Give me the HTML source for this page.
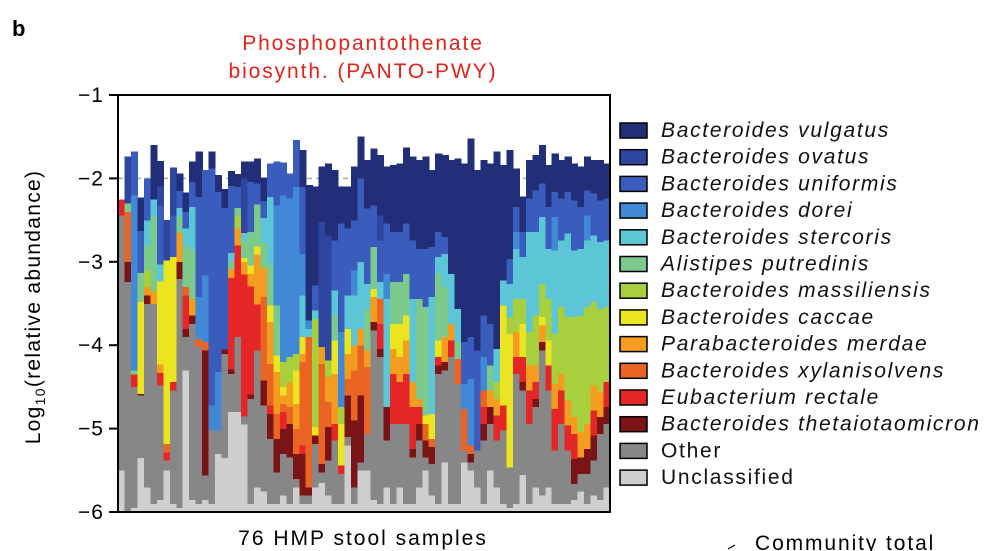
<!DOCTYPE html>
<html><head><meta charset="utf-8"><style>
html,body{margin:0;padding:0;background:#fff;}
svg{display:block;font-family:"Liberation Sans",Arial,sans-serif;}
</style></head><body>
<svg id="chart" width="990" height="551" viewBox="0 0 990 551">
<text x="12" y="36" font-size="22" font-weight="bold">b</text>
<text x="363" y="50" font-size="21" letter-spacing="1.9" fill="#e2231a" text-anchor="middle">Phosphopantothenate</text>
<text x="363" y="78" font-size="21" letter-spacing="1.9" fill="#e2231a" text-anchor="middle">biosynth. (PANTO-PWY)</text>
<g id="bars"></g>
<g id="axis"></g>
<text transform="translate(40,307) rotate(-90)" font-size="21" letter-spacing="1.3" text-anchor="middle">Log<tspan font-size="14" dy="5">10</tspan><tspan dy="-5">(relative abundance)</tspan></text>
<text x="363" y="545" font-size="21" letter-spacing="2" text-anchor="middle">76 HMP stool samples</text>
<g id="legend"></g>
<line x1="728" y1="549" x2="735" y2="545" stroke="#000" stroke-width="1.2"/>
<text x="755" y="550" font-size="21" letter-spacing="1.9">Community total</text>
</svg>
<script>
const speciesNames = ["Unclassified","Other","Bacteroides thetaiotaomicron","Eubacterium rectale","Bacteroides xylanisolvens","Parabacteroides merdae","Bacteroides caccae","Bacteroides massiliensis","Alistipes putredinis","Bacteroides stercoris","Bacteroides dorei","Bacteroides uniformis","Bacteroides ovatus","Bacteroides vulgatus"];
const speciesColors = ["#cfcfcf","#878787","#7b1416","#e42626","#ea6424","#f39c1f","#ebe420","#a8cf3e","#7cc98c","#5cc6d6","#4189d6","#3a5cbc","#2f46a0","#232e78"];
const yTicks = [-1,-2,-3,-4,-5,-6];
const yTickLabels = ["\u22121","\u22122","\u22123","\u22124","\u22125","\u22126"];
const unclassified = [.5,0,.05,.65,.3,.1,.15,.5,.1,.05,1.7,.15,.1,.15,.1,.7,.65,1.2,1.2,1.05,.1,.3,.25,.1,.1,.2,.1,.3,.1,.1,.3,.35,.2,.1,.1,.8,.1,.5,.5,.15,.1,.3,.1,.3,.1,.1,.3,.5,.2,.1,.6,.1,.1,.6,.5,.3,.1,.5,.3,.1,.05,.1,.45,.1,.3,.2,.3,.1,.1,.1,.15,.25,.1,.2,.15,.3];
const other = [3.06,2.76,1.45,.75,2.2,2.4,1.37,.12,1.36,2.75,.4,2.11,1.88,.29,.88,.28,1.25,.46,.9,.1,1.26,1.64,1.03,.78,.38,.5,.56,.1,.1,.1,.52,.13,.42,.76,.36,.1,.2,.1,.44,2.03,1.76,.56,.96,.76,.96,.56,.56,.16,.38,1.56,1.1,1.76,1.44,.14,.1,.44,.76,.56,.56,.88,.49,1.56,1.01,.96,.96,1.74,1.16,.64,.96,.64,.19,.21,.36,.42,.79,.76];
const thetaiotaomicron = [0,.24,0,.02,.1,0,0,0,0,.2,.1,.1,0,1.5,0,0,.05,.05,0,0,.05,0,.3,.3,.4,.3,.4,.3,.5,.1,.1,.1,.4,0,0,.5,.8,.8,0,.1,.1,.4,0,0,0,.1,.2,.2,.2,.1,.1,0,0,0,.1,0,.2,.2,0,0,0,0,.1,0,.1,.1,0,0,0,0,.3,.2,.3,.3,.2,.2];
const rectale = [.19,0,.15,0,0,0,.15,.1,.1,0,.4,0,0,0,0,0,0,1.1,1.1,1.7,1.3,.55,0,.1,0,.2,0,0,.1,0,0,0,0,.2,.1,0,0,0,0,0,.3,0,.6,.5,.6,.5,.2,0,0,.1,0,.2,0,0,0,0,.2,0,.3,.3,0,.2,.3,.4,.2,0,.3,.5,.4,.3,.3,0,0,.3,0,.3];
const xylanisolvens = [0,.6,0,0,0,0,0,.1,0,0,.1,0,.1,.1,0,0,0,0,0,0,0,0,1.0,.5,.3,.1,.2,.3,1.0,1.8,0,1.2,.3,0,0,.2,.6,.6,.8,0,.3,0,0,0,0,0,0,.2,.1,0,0,0,.3,.5,.1,0,.2,0,0,0,0,0,0,0,0,0,0,0,0,0,0,0,0,0,0,0];
const merdae = [0,0,0,0,.1,.15,.1,0,0,.35,0,.2,0,0,0,0,0,.1,.2,.15,.15,.6,.35,.5,.5,.1,.3,.3,.1,0,0,.2,.3,.6,0,.3,.3,.2,.2,.3,0,0,.3,.3,.4,.3,.1,0,0,0,.3,.2,0,0,0,0,0,.2,.2,0,0,.3,0,.3,.2,.2,0,.3,.2,.3,.2,.3,.3,.3,.3,0];
const caccae = [0,0,0,1.1,0,0,1.0,2.2,1.5,0,0,0,0,0,0,0,0,0,0,.05,.1,.1,0,.2,.2,.1,0,.4,.2,0,.1,0,0,.4,.5,.3,0,0,0,.1,0,0,.3,.4,.3,0,0,.1,.3,.2,0,0,0,0,0,0,0,0,0,1.2,1.6,0,.4,0,0,.1,.3,0,0,0,0,0,0,0,0,0];
const massiliensis = [0,0,0,0,.2,0,0,0,0,0,0,0,0,0,0,0,0,0,.15,0,0,0,0,0,0,.3,.3,.2,0,0,1.3,0,.2,0,.2,0,0,0,0,0,0,0,0,0,0,0,0,0,0,0,0,0,0,0,0,0,0,0,.2,0,.2,.4,.3,.4,.6,.4,.5,.6,.8,1.0,1.2,1.4,1.4,1.0,1.0,.9];
const putredinis = [0,.1,.05,.35,.3,.9,0,0,0,.2,.5,.6,0,0,0,0,0,.1,.1,.2,.4,.5,.3,.5,.6,0,0,0,0,0,0,0,0,.3,0,0,0,0,.5,.5,0,0,.5,.5,.5,0,1.2,1.3,0,.8,.6,0,.2,0,0,0,0,.3,0,0,0,0,0,0,0,0,0,0,0,0,0,0,0,0,0,0];
const stercoris = [0,0,0,0,.3,.2,.2,0,0,.1,.2,.5,0,0,0,0,0,.1,0,.1,0,0,.3,.8,0,0,0,0,.5,.1,.1,0,0,.3,0,.4,.6,.8,.3,0,.2,1.3,0,0,0,1.0,0,0,1.4,.2,.4,.6,.4,0,0,0,0,0,.4,.3,.4,.6,.5,1.2,1.0,.8,.6,1.0,.8,1.0,.8,.8,.8,.8,.8,.8];
const dorei = [0,0,2.1,0,0,0,0,0,0,0,0,0,.5,.8,.3,.7,0,0,0,0,0,0,0,0,1.2,2.0,1.9,2.0,.5,.1,0,0,0,0,.9,0,.3,0,0,0,0,.3,0,0,0,0,0,0,0,0,0,0,0,.3,.8,0,.4,0,0,0,0,.2,0,0,0,0,0,.4,0,0,0,0,.3,0,0,0];
const uniformis = [0,0,.52,.5,.5,0,.7,0,.5,.2,.2,.3,1.2,1.26,2.84,2.16,1.7,.8,.25,0,.6,.25,.2,.4,.52,.39,.3,.56,.8,0,.3,0,0,.6,1.3,.8,.6,1.0,.9,.5,.5,.6,.6,.6,.6,.7,.6,.7,.6,.3,.2,0,0,.5,.5,1.2,.5,.5,0,0,.3,.3,.3,.4,.5,.4,.5,.3,.5,.5,.6,.5,.3,.5,.5,.5];
const ovatus = [0,.56,0,0,0,0,.24,.48,.57,0,0,0,0,0,0,0,0,0,0,.65,0,0,0,0,0,0,0,0,0,0,0,1.5,1.5,0,0,0,0,0,0,0,.3,0,0,0,0,0,0,0,0,0,0,0,0,0,0,0,0,0,0,0,0,0,0,0,0,0,0,0,0,0,0,0,0,0,0,0];
const vulgatus = [0,0,0,.4,0,.65,.3,0,0,.21,.23,.24,.54,0,.2,.2,.22,.18,.15,.2,.24,.3,.28,0,0,0,0,0,.44,1.62,1.18,.66,.86,.84,.44,.5,.64,.5,.58,.68,.72,.68,.8,.82,.91,1.0,1.06,1.1,.92,.94,.98,1.36,1.8,2.14,2.38,2.16,1.86,1.92,2.36,1.38,1.3,.46,.42,.46,.42,.46,.5,.46,.46,.42,.44,.48,.4,.4,.48,.42];
const seriesList = [unclassified,other,thetaiotaomicron,rectale,xylanisolvens,merdae,caccae,massiliensis,putredinis,stercoris,dorei,uniformis,ovatus,vulgatus];

const NS="http://www.w3.org/2000/svg";
const PL=118, PR=610, PT=95, PB=512, YMIN=-6, YMAX=-1;
const nSamples = vulgatus.length;
const bw=(PR-PL)/nSamples;
function yScale(v){return PB-(v-YMIN)/(YMAX-YMIN)*(PB-PT);}
function xScale(i){return PL+i*bw;}
function mk(tag,attrs,parent){const e=document.createElementNS(NS,tag);for(const k in attrs)e.setAttribute(k,attrs[k]);parent.appendChild(e);return e;}

const bars=document.getElementById('bars');
const dl=mk('line',{x1:PL,x2:PR,y1:yScale(-2),y2:yScale(-2),stroke:'#aaa','stroke-width':1.5,'stroke-dasharray':'5,4'},bars);


for(let i=0;i<nSamples;i++){
  let base=YMIN;
  for(let s=0;s<seriesList.length;s++){
    const h=seriesList[s][i];
    if(!h) continue;
    const top=base+h;
    const r=mk('rect',{x:xScale(i),y:yScale(top),width:bw+0.6,height:yScale(base)-yScale(top)+0.3,fill:speciesColors[s],'shape-rendering':'crispEdges'},bars);
    
    
    base=top;
  }
}
const ax=document.getElementById('axis');
const frame=mk('rect',{x:PL,y:PT,width:PR-PL,height:PB-PT,fill:'none',stroke:'#000','stroke-width':2},ax);


yTicks.forEach((t,k)=>{
  const l=mk('line',{x1:PL-9,x2:PL,y1:yScale(t),y2:yScale(t),stroke:'#000','stroke-width':2},ax);
  
  
  const tx=mk('text',{x:PL-14,y:yScale(t)+7,'font-size':21,'letter-spacing':1,'text-anchor':'end'},ax);
  tx.textContent=yTickLabels[k];
  
  
});
const lg=document.getElementById('legend');
for(let k=0;k<14;k++){
  const s=13-k;
  const y=130+k*26.7;
  const sw=mk('rect',{x:620,y:y-7,width:27,height:15,fill:speciesColors[s],stroke:'#000','stroke-width':1.5},lg);
  
  
  const t=mk('text',{x:661,y:y+7,'font-size':21,'letter-spacing':1.7,'font-style':s>1?'italic':'normal',fill:'#111'},lg);
  t.textContent=speciesNames[s];
  
  
}
</script>
</body></html>
